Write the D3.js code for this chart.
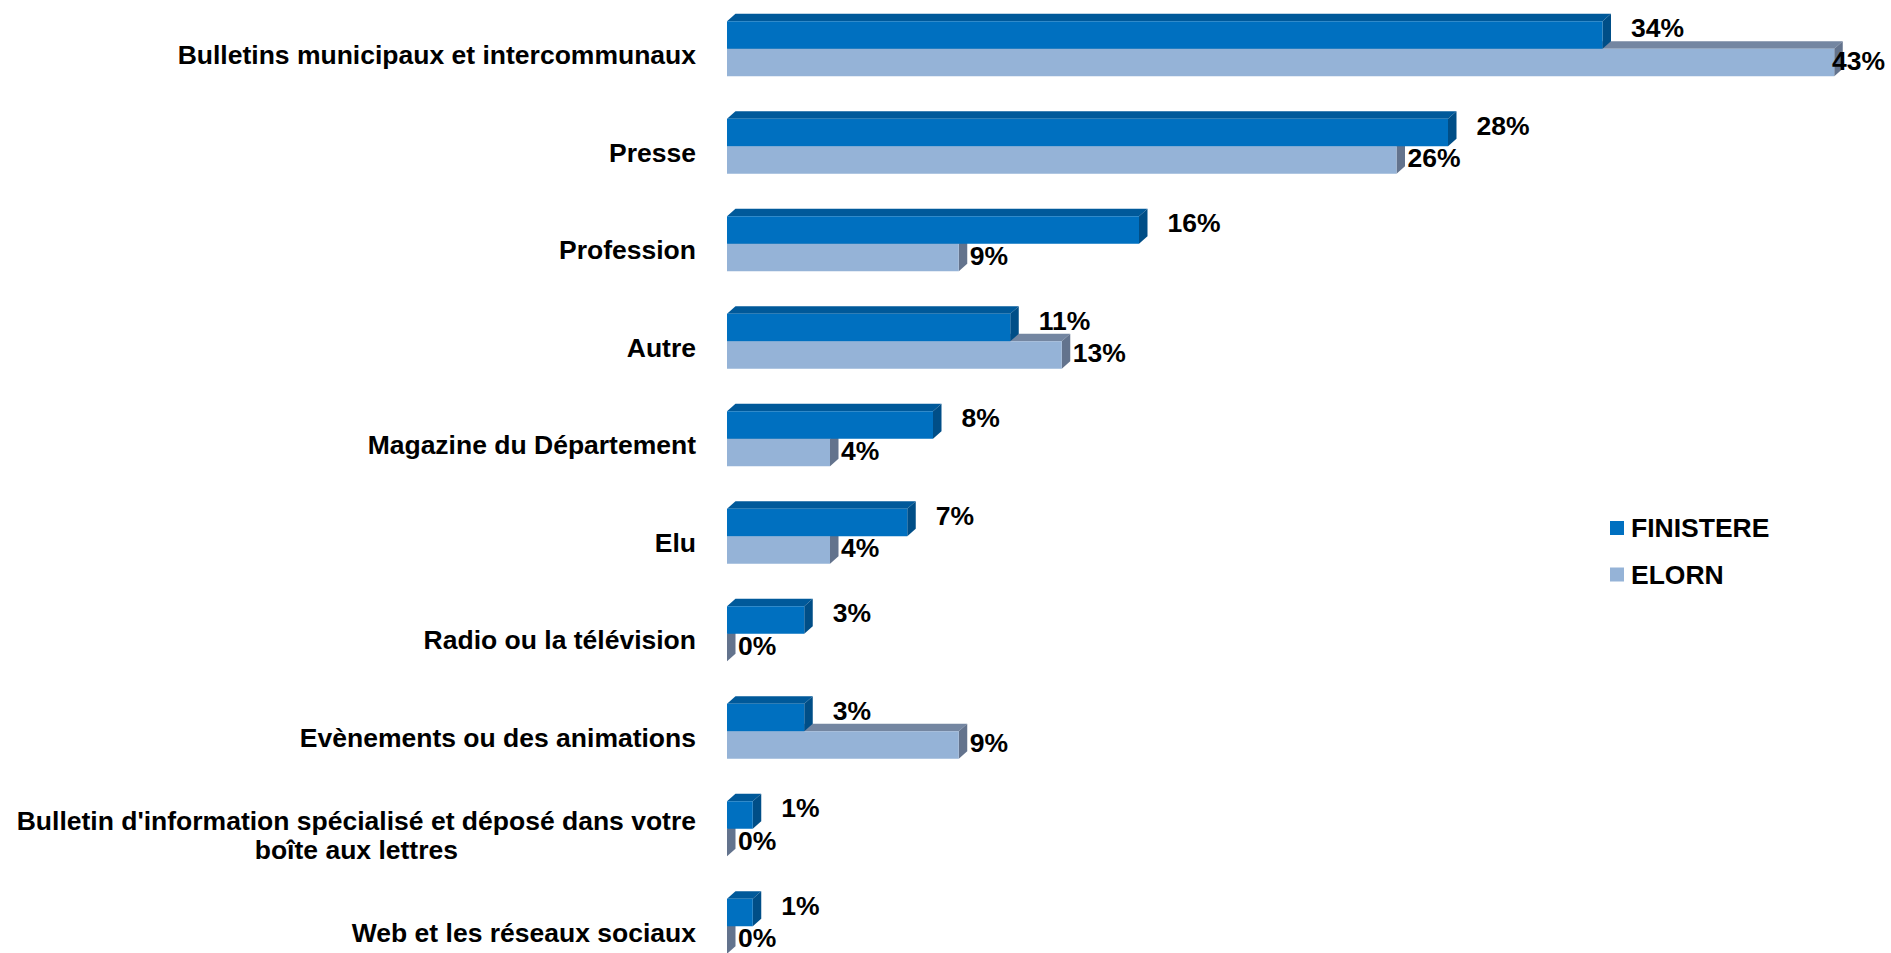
<!DOCTYPE html>
<html>
<head>
<meta charset="utf-8">
<script src="https://cdn.jsdelivr.net/npm/d3@7"></script>
<style>
  html, body { margin: 0; padding: 0; background: #fff; overflow: hidden; }
  svg { display: block; }
  text { font-family: "Liberation Sans", Arial, sans-serif; font-weight: bold; fill: #000; }
</style>
</head>
<body>
<svg id="chart" width="1891" height="953"></svg>
<script>
// Sources d'information citées (%), Finistère vs Elorn
const categories = [
  "Bulletins municipaux et intercommunaux",
  "Presse",
  "Profession",
  "Autre",
  "Magazine du Département",
  "Elu",
  "Radio ou la télévision",
  "Evènements ou des animations",
  "Bulletin d'information spécialisé et déposé dans votre\nboîte aux lettres",
  "Web et les réseaux sociaux"
];
const seriesNames = ["FINISTERE", "ELORN"];
const finistere = [34, 28, 16, 11, 8, 7, 3, 3, 1, 1];
const elorn = [43, 26, 9, 13, 4, 4, 0, 9, 0, 0];

const W = 1891, H = 953;
const FONT = "26.5px";
const svg = d3.select("#chart");

// 3D bar depth (extrusion toward upper right)
const DX = 8.5, DY = 7.5;

const x = d3.scaleLinear().domain([0, 45]).range([727, 727 + 45 * 25.75]);
const y = d3.scaleBand().domain(categories).range([0, 975])
  .paddingInner(0.436).paddingOuter(0.218);
const ySub = d3.scaleBand().domain(seriesNames).range([0, y.bandwidth()]);

const colors = {
  FINISTERE: { front: "#0070C0", top: "#00599A", side: "#004E87" },
  ELORN:     { front: "#95B3D7", top: "#7486A1", side: "#63738D" }
};

const rows = categories.map((c, i) => ({ cat: c, FINISTERE: finistere[i], ELORN: elorn[i] }));

// Draw ELORN first so that the FINISTERE bar sits in front of its top face
const drawOrder = ["ELORN", "FINISTERE"];
const gBars = svg.append("g");

drawOrder.forEach(s => {
  const g = gBars.append("g").attr("class", "series-" + s);
  rows.forEach(r => {
    const x0 = x(0), x1 = x(r[s]);
    const yt = y(r.cat) + ySub(s), h = ySub.bandwidth();
    const c = colors[s];
    // top face
    g.append("polygon")
      .attr("points", [[x0, yt], [x0 + DX, yt - DY], [x1 + DX, yt - DY], [x1, yt]].join(" "))
      .attr("fill", c.top);
    // side face at bar end
    g.append("polygon")
      .attr("points", [[x1, yt], [x1 + DX, yt - DY], [x1 + DX, yt + h - DY], [x1, yt + h]].join(" "))
      .attr("fill", c.side);
    // front face
    g.append("rect")
      .attr("x", x0).attr("y", yt)
      .attr("width", Math.max(0, x1 - x0)).attr("height", h)
      .attr("fill", c.front);
  });
});

// Value labels
const gLab = svg.append("g").style("font-size", FONT);
rows.forEach(r => {
  const yc = y(r.cat) + ySub("FINISTERE") + ySub.bandwidth() / 2;
  gLab.append("text")
    .attr("x", x(r.FINISTERE) + DX + 20)
    .attr("y", yc - 7)
    .attr("dy", "0.35em")
    .text(r.FINISTERE + "%");
  const ye = y(r.cat) + ySub("ELORN") + ySub.bandwidth() / 2;
  const t = gLab.append("text")
    .attr("y", ye - 2)
    .attr("dy", "0.35em")
    .text(r.ELORN + "%");
  const tw = t.node().getComputedTextLength();
  t.attr("x", Math.min(x(r.ELORN) + 11, W - tw - 6));
});

// Category labels (right aligned, wrapped lines centred within the block)
const gCat = svg.append("g").style("font-size", FONT);
const labelRight = 696, lineH = 29;
categories.forEach(c => {
  const lines = c.split("\n");
  const yc = y(c) + y.bandwidth() / 2 + 6;
  if (lines.length === 1) {
    gCat.append("text").attr("x", labelRight).attr("y", yc).attr("dy", "0.35em")
      .attr("text-anchor", "end").text(c);
  } else {
    const texts = lines.map((l, k) => gCat.append("text")
      .attr("y", yc + (k - (lines.length - 1) / 2) * lineH).attr("dy", "0.35em")
      .attr("text-anchor", "middle").text(l));
    const wMax = d3.max(texts, t => t.node().getComputedTextLength());
    texts.forEach(t => t.attr("x", labelRight - wMax / 2));
  }
});

// Legend
const legend = svg.append("g").attr("transform", "translate(1610,521)").style("font-size", FONT);
seriesNames.forEach((s, i) => {
  const g = legend.append("g").attr("transform", `translate(0,${i * 46.5})`);
  g.append("rect").attr("width", 14).attr("height", 14).attr("fill", colors[s].front);
  g.append("text").attr("x", 21).attr("y", 7).attr("dy", "0.35em").text(s);
});
</script>
</body>
</html>
